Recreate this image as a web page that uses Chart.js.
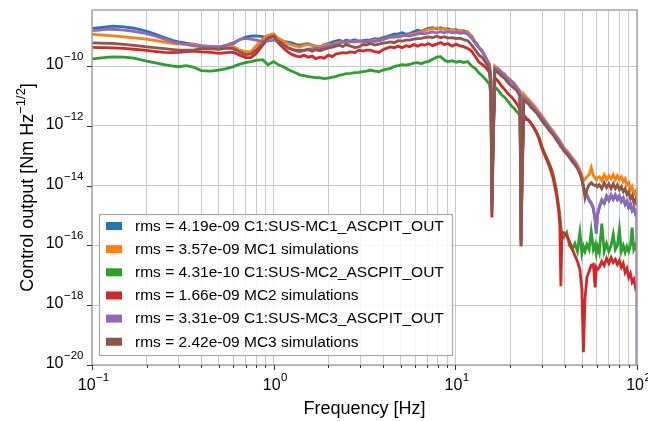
<!DOCTYPE html>
<html>
<head>
<meta charset="utf-8">
<title>MC ASC pitch control output</title>
<script src="https://cdn.jsdelivr.net/npm/chart.js@4.4.1/dist/chart.umd.min.js"></script>
<style>
  html, body { margin: 0; padding: 0; background: #ffffff; }
  canvas { display: block; }
</style>
</head>
<body>
<canvas id="psd" width="648" height="421" style="width:648px;height:421px"></canvas>
<script>
// Frequency axis shared by all spectra [Hz]
const freqHz = [
  0.1, 0.11, 0.12, 0.13, 0.15, 0.17, 0.2, 0.22, 0.25, 0.28, 0.3, 0.33, 0.36, 0.4, 0.45, 0.5, 0.55, 0.6, 0.65, 0.7, 0.75, 0.8, 0.87, 0.93, 1.0,
  1.05, 1.1, 1.15, 1.2, 1.27, 1.33, 1.4, 1.47, 1.55, 1.63, 1.7, 1.8, 1.9, 2.0, 2.1, 2.2, 2.3, 2.4, 2.5, 2.65, 2.8, 2.95, 3.1, 3.25, 3.4, 3.6, 3.8, 4.0, 4.2, 4.4, 4.6, 4.85, 5.1, 5.35, 5.6, 5.9, 6.2, 6.5, 6.8, 7.1, 7.5, 7.9, 8.3, 8.7, 9.1, 9.6, 10.1, 10.6, 11.1, 11.7, 12.3, 12.9, 13.5, 14.1, 14.8, 15.4,
  15.7, 15.9, 16.1, 16.5, 17, 17.5, 18, 18.6, 19.2, 19.8, 20.4, 21, 21.6, 22.2, 22.7, 23.0, 23.3, 23.8, 24.5, 25.2, 26, 27, 28, 29, 30, 31.5, 33, 34.5,
  36, 37, 37.6, 38.1, 38.6, 39.5, 41, 42.5, 44, 45.5, 47, 48.5, 49.7, 50.7, 51.7, 53, 54.5, 56, 57.5, 58.8, 59.7, 60.6, 62, 64, 66, 68, 70, 72, 74, 76, 78, 80, 82, 84, 86, 88, 90, 92, 94, 96, 98, 99.6, 100
];

// C1:SUS-MC1_ASCPIT_OUT [Nm/rtHz]
const mc1Measured = [
  1.82e-9, 1.91e-9, 2.06e-9, 2.15e-9, 2.06e-9, 1.84e-9, 1.46e-9, 1.20e-9, 8.91e-10, 7.07e-10, 6.45e-10, 5.84e-10, 5.40e-10, 4.81e-10, 4.53e-10, 4.39e-10, 4.81e-10, 5.61e-10, 7.64e-10, 9.26e-10, 1.01e-9, 1.02e-9, 9.62e-10, 9.1e-10, 9.62e-10,
  7.94e-10, 7.07e-10, 6.55e-10, 6.30e-10, 5.84e-10, 5.20e-10, 5.00e-10, 5.40e-10, 5.61e-10, 5.00e-10, 4.63e-10, 4.39e-10, 5.20e-10, 5.70e-10, 6.30e-10, 6.81e-10, 7.35e-10, 6.55e-10, 7.35e-10, 6.81e-10, 7.64e-10, 6.45e-10, 7.07e-10, 7.35e-10, 7.35e-10, 8.25e-10, 7.94e-10, 8.91e-10, 9.62e-10, 1.07e-9, 1.16e-9, 1.20e-9, 1.30e-9, 1.16e-9, 1.22e-9, 1.41e-9, 1.58e-9, 1.46e-9, 1.64e-9, 1.84e-9, 1.91e-9, 1.77e-9, 1.91e-9, 1.70e-9, 1.77e-9, 1.58e-9, 1.64e-9, 1.46e-9, 1.52e-9, 1.35e-9, 1.00e-9, 6.30e-10, 4.29e-10, 3.15e-10, 1.84e-10, 1.16e-10,
  3.40e-11, 2.32e-15, 1.58e-13, 9.26e-11, 8.57e-11, 7.35e-11, 6.30e-11, 5.40e-11, 4.29e-11, 3.68e-11, 3.15e-11, 2.70e-11, 2.15e-11, 1.70e-11, 1.35e-11, 1.58e-16, 3.40e-14, 1.00e-11, 8.57e-12, 7.35e-12, 5.84e-12, 4.63e-12, 3.40e-12, 2.70e-12, 1.98e-12, 1.35e-12, 8.57e-13, 6.30e-13,
  4.29e-13, 3.40e-13, 2.92e-13, 2.50e-13, 2.32e-13, 1.84e-13, 1.46e-13, 1.07e-13, 7.94e-14, 6.30e-14, 4.63e-14, 2.92e-14, 1.70e-14, 9.26e-15, 5.84e-15, 4.63e-15, 3.15e-15, 2.50e-15, 1.70e-15, 6.81e-16, 2.50e-16, 1.00e-15, 1.84e-15, 3.15e-15, 2.50e-15, 4.29e-15, 3.15e-15, 4.63e-15, 3.40e-15, 4.63e-15, 3.40e-15, 4.29e-15, 2.92e-15, 3.68e-15, 2.32e-15, 2.92e-15, 1.84e-15, 2.32e-15, 1.46e-15, 1.84e-15, 1.16e-15, 1.35e-15, 1.35e-15
];

// MC1 model
const mc1Sim = [
  1.16e-9, 1.11e-9, 1.07e-9, 1.02e-9, 9.4e-10, 8.7e-10, 7.94e-10, 7.2e-10, 6.30e-10, 5.61e-10, 5.40e-10, 5.3e-10, 5.20e-10, 4.63e-10, 4.39e-10, 4.39e-10, 4.46e-10, 4.46e-10, 3.40e-10, 3.03e-10, 3.03e-10, 4.63e-10, 7.94e-10, 1.07e-9, 1.20e-9,
  8.91e-10, 7.64e-10, 6.55e-10, 5.61e-10, 5.00e-10, 4.63e-10, 4.39e-10, 5.00e-10, 5.26e-10, 4.81e-10, 4.53e-10, 4.39e-10, 5.00e-10, 5.40e-10, 5.20e-10, 5.84e-10, 6.15e-10, 6.55e-10, 5.84e-10, 6.30e-10, 6.81e-10, 6.55e-10, 6.06e-10, 6.45e-10, 6.45e-10, 7.35e-10, 7.07e-10, 7.94e-10, 8.57e-10, 9.45e-10, 8.91e-10, 1.00e-9, 1.03e-9, 1.11e-9, 1.13e-9, 1.20e-9, 1.30e-9, 1.38e-9, 1.52e-9, 1.70e-9, 1.77e-9, 1.91e-9, 1.70e-9, 1.84e-9, 1.52e-9, 1.64e-9, 1.46e-9, 1.58e-9, 1.35e-9, 1.41e-9, 9.26e-10, 6.06e-10, 4.12e-10, 3.03e-10, 1.70e-10, 1.11e-10,
  3.40e-11, 2.32e-15, 1.58e-13, 1.00e-10, 8.57e-11, 7.07e-11, 6.30e-11, 5.20e-11, 4.29e-11, 3.40e-11, 3.15e-11, 2.50e-11, 2.15e-11, 1.70e-11, 1.46e-11, 1.58e-16, 3.40e-14, 1.16e-11, 9.26e-12, 7.94e-12, 6.30e-12, 5.00e-12, 3.68e-12, 2.70e-12, 2.15e-12, 1.35e-12, 9.26e-13, 6.81e-13,
  4.63e-13, 3.68e-13, 3.15e-13, 2.70e-13, 2.50e-13, 1.84e-13, 1.46e-13, 1.16e-13, 8.57e-14, 6.81e-14, 5.00e-14, 3.15e-14, 2.32e-14, 1.46e-14, 1.58e-14, 1.98e-14, 2.32e-14, 3.97e-14, 2.15e-14, 1.84e-14, 1.58e-14, 1.84e-14, 1.98e-14, 1.46e-14, 2.32e-14, 1.58e-14, 2.15e-14, 1.70e-14, 2.32e-14, 1.58e-14, 2.15e-14, 1.58e-14, 1.98e-14, 1.35e-14, 1.70e-14, 1.07e-14, 1.25e-14, 7.35e-15, 9.26e-15, 5.00e-15, 6.30e-15, 4.29e-15, 4.29e-15
];

// C1:SUS-MC2_ASCPIT_OUT
const mc2Measured = [
  1.74e-10, 1.84e-10, 1.95e-10, 2.03e-10, 1.98e-10, 1.84e-10, 1.46e-10, 1.30e-10, 1.11e-10, 1.00e-10, 9.5e-11, 1.03e-10, 9.26e-11, 7.07e-11, 6.81e-11, 7.35e-11, 8.25e-11, 9.62e-11, 1.16e-10, 1.30e-10, 1.41e-10, 1.54e-10, 1.64e-10, 1.11e-10, 1.41e-10,
  1.16e-10, 1.00e-10, 8.91e-11, 7.64e-11, 6.55e-11, 5.84e-11, 5.00e-11, 4.81e-11, 4.46e-11, 4.29e-11, 4.12e-11, 4.06e-11, 3.82e-11, 3.97e-11, 4.29e-11, 4.46e-11, 5.00e-11, 5.20e-11, 5.61e-11, 5.70e-11, 6.06e-11, 6.15e-11, 6.55e-11, 6.81e-11, 7.35e-11, 6.81e-11, 6.45e-11, 7.35e-11, 7.94e-11, 8.35e-11, 9.62e-11, 1.03e-10, 1.11e-10, 1.07e-10, 1.13e-10, 1.25e-10, 1.30e-10, 1.20e-10, 1.35e-10, 1.41e-10, 1.70e-10, 1.98e-10, 2.06e-10, 1.58e-10, 1.38e-10, 1.52e-10, 1.35e-10, 1.46e-10, 1.30e-10, 1.41e-10, 1.00e-10, 8.25e-11, 5.84e-11, 4.63e-11, 3.40e-11, 2.50e-11,
  1.07e-11, 7.35e-15, 3.40e-13, 1.98e-11, 1.70e-11, 1.35e-11, 1.07e-11, 9.26e-12, 7.35e-12, 5.84e-12, 4.63e-12, 3.97e-12, 3.15e-12, 2.70e-12, 2.15e-12, 7.35e-16, 3.40e-14, 1.84e-12, 1.58e-12, 1.58e-12, 1.25e-12, 9.26e-13, 6.30e-13, 3.97e-13, 1.98e-13, 1.00e-13, 5.40e-14, 2.50e-14,
  7.35e-15, 2.32e-15, 1.07e-15, 4.63e-16, 2.15e-16, 1.84e-16, 2.70e-16, 1.00e-16, 7.35e-17, 1.16e-16, 6.30e-17, 2.70e-16, 5.40e-17, 9.26e-17, 6.30e-17, 1.07e-16, 7.35e-17, 2.92e-16, 7.35e-17, 1.07e-16, 5.40e-17, 9.26e-17, 5.84e-17, 5.40e-16, 6.30e-17, 1.16e-16, 6.30e-17, 1.00e-16, 2.32e-16, 7.35e-17, 1.00e-16, 3.40e-16, 6.30e-17, 1.00e-16, 5.84e-17, 9.26e-17, 6.30e-17, 1.00e-16, 3.97e-16, 7.35e-17, 1.00e-16, 7.35e-17, 7.35e-17
];

// MC2 model
const mc2Sim = [
  4.19e-10, 4.15e-10, 4.12e-10, 4.06e-10, 3.88e-10, 3.65e-10, 3.34e-10, 3.11e-10, 2.85e-10, 2.81e-10, 2.85e-10, 3.03e-10, 3.15e-10, 2.98e-10, 2.85e-10, 2.64e-10, 2.81e-10, 2.92e-10, 2.32e-10, 1.91e-10, 1.91e-10, 2.60e-10, 5.00e-10, 8.25e-10, 1.00e-9,
  6.30e-10, 4.81e-10, 3.68e-10, 2.92e-10, 2.41e-10, 2.15e-10, 2.04e-10, 2.32e-10, 1.98e-10, 2.15e-10, 1.77e-10, 1.98e-10, 1.84e-10, 2.32e-10, 2.06e-10, 2.50e-10, 2.64e-10, 2.81e-10, 2.70e-10, 2.98e-10, 2.81e-10, 3.40e-10, 3.15e-10, 3.40e-10, 3.40e-10, 3.03e-10, 2.85e-10, 3.54e-10, 3.97e-10, 4.39e-10, 4.12e-10, 4.63e-10, 4.12e-10, 4.81e-10, 4.39e-10, 5.20e-10, 4.63e-10, 5.26e-10, 5.00e-10, 5.70e-10, 4.81e-10, 5.40e-10, 6.15e-10, 5.20e-10, 5.70e-10, 4.63e-10, 5.40e-10, 4.70e-10, 4.46e-10, 3.88e-10, 3.15e-10, 2.04e-10, 1.35e-10, 1.11e-10, 8.57e-11, 6.30e-11,
  1.84e-11, 8.57e-16, 7.35e-14, 3.97e-11, 3.40e-11, 2.70e-11, 2.15e-11, 1.70e-11, 1.35e-11, 1.07e-11, 9.26e-12, 7.35e-12, 5.84e-12, 4.63e-12, 3.40e-12, 1.00e-16, 1.58e-14, 2.32e-12, 1.84e-12, 1.58e-12, 1.25e-12, 8.57e-13, 5.84e-13, 3.40e-13, 1.70e-13, 8.57e-14, 4.29e-14, 1.84e-14,
  5.00e-15, 1.58e-15, 5.00e-16, 4.29e-18, 2.70e-16, 2.70e-16, 2.15e-16, 1.35e-16, 7.94e-17, 4.63e-17, 2.92e-17, 1.58e-17, 3.40e-18, 2.70e-20, 1.58e-18, 8.57e-18, 1.35e-17, 2.15e-17, 2.32e-17, 3.97e-18, 1.84e-17, 1.58e-17, 1.84e-17, 2.92e-17, 2.15e-17, 3.68e-17, 2.50e-17, 3.97e-17, 2.70e-17, 3.40e-17, 2.32e-17, 3.15e-17, 1.84e-17, 2.50e-17, 1.25e-17, 1.70e-17, 8.57e-18, 1.16e-17, 5.84e-18, 7.35e-18, 3.97e-18, 5.00e-18, 5.00e-18
];

// C1:SUS-MC3_ASCPIT_OUT (last bin falls to zero)
const mc3Measured = [
  1.54e-9, 1.60e-9, 1.68e-9, 1.70e-9, 1.60e-9, 1.44e-9, 1.22e-9, 1.03e-9, 7.94e-10, 6.45e-10, 5.96e-10, 5.26e-10, 4.72e-10, 4.46e-10, 4.29e-10, 4.19e-10, 5.00e-10, 6.06e-10, 7.75e-10, 8.38e-10, 7.94e-10, 7.35e-10, 6.55e-10, 6.81e-10, 7.35e-10,
  6.81e-10, 5.84e-10, 4.81e-10, 4.12e-10, 3.54e-10, 3.15e-10, 2.98e-10, 3.40e-10, 3.68e-10, 3.82e-10, 3.97e-10, 3.88e-10, 4.29e-10, 4.81e-10, 5.40e-10, 5.20e-10, 5.70e-10, 6.30e-10, 6.55e-10, 6.81e-10, 6.30e-10, 7.07e-10, 6.81e-10, 6.30e-10, 7.07e-10, 6.55e-10, 7.07e-10, 7.64e-10, 8.57e-10, 9.26e-10, 1.00e-9, 9.26e-10, 1.03e-9, 1.07e-9, 1.00e-9, 1.11e-9, 1.20e-9, 1.25e-9, 1.20e-9, 1.30e-9, 1.38e-9, 1.30e-9, 1.41e-9, 1.30e-9, 1.41e-9, 1.30e-9, 1.35e-9, 1.25e-9, 1.30e-9, 1.16e-9, 8.57e-10, 5.61e-10, 3.97e-10, 2.92e-10, 1.64e-10, 1.07e-10,
  3.40e-11, 1.84e-15, 1.58e-13, 8.57e-11, 7.94e-11, 6.81e-11, 5.84e-11, 5.00e-11, 3.97e-11, 3.40e-11, 2.92e-11, 2.50e-11, 1.98e-11, 1.58e-11, 1.35e-11, 1.35e-16, 3.40e-14, 9.26e-12, 7.94e-12, 6.81e-12, 5.40e-12, 4.29e-12, 3.15e-12, 2.50e-12, 1.84e-12, 1.25e-12, 8.57e-13, 5.84e-13,
  4.29e-13, 3.40e-13, 2.92e-13, 2.50e-13, 2.15e-13, 1.70e-13, 1.35e-13, 1.07e-13, 7.94e-14, 5.84e-14, 4.29e-14, 2.70e-14, 1.84e-14, 1.00e-14, 6.30e-15, 5.00e-15, 3.40e-15, 2.70e-15, 1.84e-15, 7.35e-16, 2.70e-16, 1.07e-15, 1.98e-15, 3.40e-15, 2.70e-15, 4.63e-15, 3.40e-15, 5.00e-15, 3.68e-15, 5.00e-15, 3.68e-15, 4.63e-15, 3.15e-15, 3.97e-15, 2.50e-15, 3.15e-15, 1.98e-15, 2.50e-15, 1.58e-15, 1.98e-15, 1.25e-15, 1.46e-15, 1e-22
];

// MC3 model
const mc3Sim = [
  5.97e-10, 5.84e-10, 5.75e-10, 5.70e-10, 5.32e-10, 4.93e-10, 4.39e-10, 4.12e-10, 3.82e-10, 3.54e-10, 3.40e-10, 3.40e-10, 3.40e-10, 3.82e-10, 3.76e-10, 3.59e-10, 3.97e-10, 3.82e-10, 3.03e-10, 2.41e-10, 2.50e-10, 3.40e-10, 5.84e-10, 8.91e-10, 1.00e-9,
  7.07e-10, 6.06e-10, 5.00e-10, 4.12e-10, 3.54e-10, 3.40e-10, 3.40e-10, 3.27e-10, 3.54e-10, 3.15e-10, 3.54e-10, 3.27e-10, 3.68e-10, 3.97e-10, 4.29e-10, 4.63e-10, 5.00e-10, 4.46e-10, 5.20e-10, 4.63e-10, 4.12e-10, 4.39e-10, 5.20e-10, 5.00e-10, 5.70e-10, 5.00e-10, 5.40e-10, 5.84e-10, 6.06e-10, 6.45e-10, 6.06e-10, 7.07e-10, 6.81e-10, 7.35e-10, 7.35e-10, 7.94e-10, 8.25e-10, 8.38e-10, 8.91e-10, 9.45e-10, 8.91e-10, 1.00e-9, 8.91e-10, 9.62e-10, 8.57e-10, 8.91e-10, 8.25e-10, 8.57e-10, 7.64e-10, 7.07e-10, 5.00e-10, 3.40e-10, 2.32e-10, 1.91e-10, 1.20e-10, 8.57e-11,
  2.32e-11, 1.25e-15, 1.07e-13, 7.35e-11, 6.30e-11, 5.40e-11, 4.63e-11, 3.97e-11, 3.15e-11, 2.50e-11, 2.15e-11, 1.84e-11, 1.58e-11, 1.25e-11, 1.00e-11, 9.26e-17, 2.32e-14, 7.35e-12, 6.30e-12, 5.40e-12, 4.29e-12, 3.40e-12, 2.70e-12, 1.98e-12, 1.46e-12, 1.00e-12, 6.81e-13, 5.00e-13,
  3.40e-13, 2.70e-13, 2.32e-13, 1.98e-13, 1.84e-13, 1.46e-13, 1.16e-13, 8.57e-14, 6.30e-14, 5.00e-14, 3.68e-14, 2.50e-14, 1.58e-14, 8.57e-15, 3.97e-15, 7.35e-15, 1.07e-14, 1.25e-14, 1.07e-14, 1.00e-14, 1.07e-14, 9.26e-15, 1.07e-14, 7.94e-15, 1.25e-14, 8.57e-15, 1.16e-14, 7.94e-15, 1.16e-14, 7.94e-15, 1.07e-14, 7.35e-15, 9.26e-15, 6.30e-15, 7.94e-15, 5.00e-15, 6.30e-15, 3.68e-15, 4.63e-15, 2.70e-15, 3.40e-15, 2.32e-15, 2.32e-15
];

const seriesLabels = [
  'rms = 4.19e-09 C1:SUS-MC1_ASCPIT_OUT',
  'rms = 3.57e-09 MC1 simulations',
  'rms = 4.31e-10 C1:SUS-MC2_ASCPIT_OUT',
  'rms = 1.66e-09 MC2 simulations',
  'rms = 3.31e-09 C1:SUS-MC3_ASCPIT_OUT',
  'rms = 2.42e-09 MC3 simulations'
];
const seriesValues = [mc1Measured, mc1Sim, mc2Measured, mc2Sim, mc3Measured, mc3Sim];
const seriesColors = ['#1f77b4', '#ff7f0e', '#2ca02c', '#d62728', '#9467bd', '#8c564b'];

// Labelled decades (exponents of ten) on each axis
const xTickDecades = [-1, 0, 1, 2];
const yTickDecades = [-20, -18, -16, -14, -12, -10];

const FONT = "'Liberation Sans', Arial, Helvetica, sans-serif";
const font = px => px + 'px ' + FONT;

// x ticks: every 1..9 multiple inside the decades shown
function xTickValues() {
  const out = [];
  for (let i = 0; i < xTickDecades.length; i++) {
    const base = Math.pow(10, xTickDecades[i]);
    out.push(base);
    if (i < xTickDecades.length - 1) {
      for (let m = 2; m <= 9; m++) out.push(m * base);
    }
  }
  return out;
}

// "10" with a raised exponent, as the axes label it
function drawPow10(ctx, exp, x, yMid, align) {
  const base = '10';
  const sup = exp < 0 ? '\u2212' + (-exp) : String(exp);
  ctx.font = font(16);
  const wb = ctx.measureText(base).width;
  ctx.font = font(11.5);
  const ws = ctx.measureText(sup).width;
  const total = wb + ws + 0.5;
  const x0 = align === 'right' ? x - total : x - total / 2;
  ctx.textAlign = 'left';
  ctx.textBaseline = 'alphabetic';
  ctx.font = font(16);
  ctx.fillText(base, x0, yMid + 4);
  ctx.font = font(11.5);
  ctx.fillText(sup, x0 + wb + 0.5, yMid - 4.3);
}

const axisDecor = {
  id: 'axisDecor',
  afterDraw(chart) {
    const { ctx, chartArea: a, scales: { x, y } } = chart;
    ctx.save();

    // axes frame
    ctx.strokeStyle = '#a8a8a8';
    ctx.lineWidth = 1.5;
    ctx.strokeRect(a.left, a.top, a.right - a.left, a.bottom - a.top);

    ctx.fillStyle = '#000000';
    ctx.strokeStyle = '#333333';
    ctx.lineWidth = 1;

    // y ticks and labels
    yTickDecades.forEach(e => {
      const py = Math.round(y.getPixelForValue(Math.pow(10, e))) + 0.5;
      ctx.beginPath();
      ctx.moveTo(a.left - 5, py);
      ctx.lineTo(a.left, py);
      ctx.stroke();
      drawPow10(ctx, e, a.left - 8.5, py - 1.8, 'right');
    });

    // x ticks (major + minor) and decade labels
    xTickValues().forEach(v => {
      const px = Math.round(x.getPixelForValue(v)) + 0.5;
      const major = Math.abs(Math.log10(v) - Math.round(Math.log10(v))) < 1e-9;
      ctx.beginPath();
      ctx.moveTo(px, a.bottom);
      ctx.lineTo(px, a.bottom + (major ? 5 : 3));
      ctx.stroke();
    });
    xTickDecades.forEach(e => {
      const px = x.getPixelForValue(Math.pow(10, e));
      drawPow10(ctx, e, px + 1.5, a.bottom + 20.5, 'center');
    });

    // axis titles
    ctx.fillStyle = '#000000';
    ctx.font = font(18);
    ctx.textAlign = 'center';
    ctx.textBaseline = 'middle';
    ctx.fillText('Frequency [Hz]', (a.left + a.right) / 2, 409);

    ctx.save();
    ctx.translate(26, (a.top + a.bottom) / 2);
    ctx.rotate(-Math.PI / 2);
    const t1 = 'Control output [Nm Hz';
    const t2 = '\u22121/2';
    const t3 = ']';
    ctx.font = font(18);
    const w1 = ctx.measureText(t1).width;
    const w3 = ctx.measureText(t3).width;
    ctx.font = font(13);
    const w2 = ctx.measureText(t2).width;
    let tx = -(w1 + w2 + w3) / 2;
    ctx.textAlign = 'left';
    ctx.textBaseline = 'alphabetic';
    ctx.font = font(18);
    ctx.fillText(t1, tx, 6.5);
    tx += w1;
    ctx.font = font(13);
    ctx.fillText(t2, tx, -1.5);
    tx += w2;
    ctx.font = font(18);
    ctx.fillText(t3, tx, 6.5);
    ctx.restore();

    // legend box
    const lx = a.left + 7, ly = 214, lw = 353, lh = 141;
    ctx.fillStyle = 'rgba(255,255,255,0.85)';
    ctx.fillRect(lx, ly, lw, lh);
    ctx.strokeStyle = '#a8a8a8';
    ctx.lineWidth = 1.2;
    ctx.strokeRect(lx + 0.5, ly + 0.5, lw, lh);
    ctx.font = font(15.5);
    ctx.textAlign = 'left';
    ctx.textBaseline = 'middle';
    seriesLabels.forEach((lab, i) => {
      const cy = ly + 12 + i * 23.15;
      ctx.fillStyle = seriesColors[i];
      ctx.fillRect(lx + 7, cy - 4, 16, 8);
      ctx.fillStyle = '#000000';
      ctx.fillText(lab, lx + 36, cy + 0.5);
    });

    ctx.restore();
  }
};

new Chart(document.getElementById('psd'), {
  type: 'line',
  data: {
    datasets: seriesValues.map((vals, i) => ({
      label: seriesLabels[i],
      data: freqHz.map((f, j) => ({ x: f, y: vals[j] })),
      borderColor: seriesColors[i],
      backgroundColor: seriesColors[i],
      borderWidth: 2.8,
      pointRadius: 0,
      tension: 0,
      fill: false,
      order: seriesValues.length - 1 - i
    }))
  },
  options: {
    responsive: false,
    animation: false,
    devicePixelRatio: 1,
    layout: { padding: { left: 0, right: 11, top: 10, bottom: 0 } },
    plugins: { legend: { display: false }, tooltip: { enabled: false } },
    scales: {
      x: {
        type: 'logarithmic',
        min: 0.1,
        max: 100,
        afterBuildTicks(scale) { scale.ticks = xTickValues().map(v => ({ value: v })); },
        afterFit(scale) { scale.height = 56; },
        ticks: { display: false },
        grid: { color: '#c9c9c9', lineWidth: 1, drawTicks: false },
        border: { display: false }
      },
      y: {
        type: 'logarithmic',
        min: 1e-20,
        max: 7.5e-9,
        afterBuildTicks(scale) { scale.ticks = yTickDecades.map(e => ({ value: Math.pow(10, e) })); },
        afterFit(scale) { scale.width = 92; },
        ticks: { display: false },
        grid: { color: '#c9c9c9', lineWidth: 1, drawTicks: false },
        border: { display: false }
      }
    }
  },
  plugins: [axisDecor]
});
</script>
</body>
</html>
